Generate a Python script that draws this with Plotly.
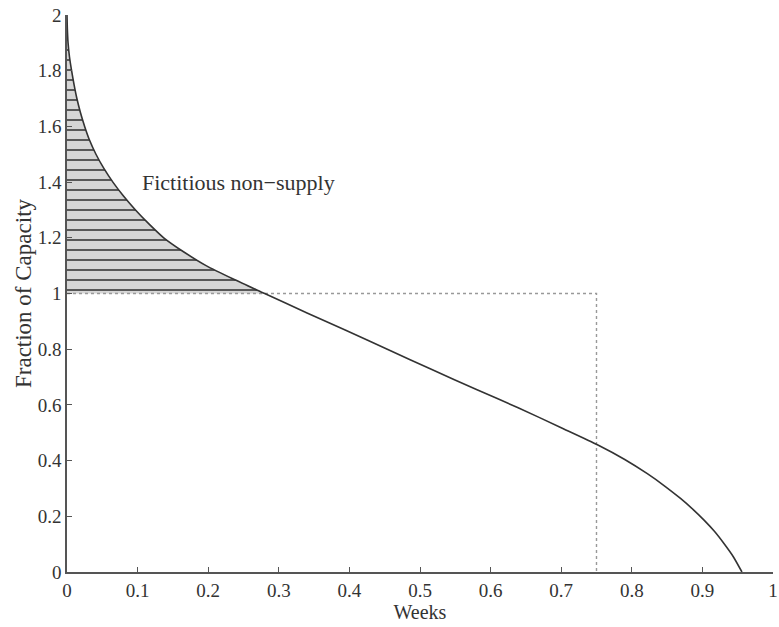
import plotly.graph_objects as go

# Data
weeks = [0.0, 0.0005, 0.0015, 0.0035, 0.0065, 0.010, 0.014, 0.019, 0.025, 0.032, 0.041,
         0.052, 0.065, 0.080, 0.097, 0.116, 0.137, 0.165, 0.197, 0.237, 0.28,
         0.34, 0.394, 0.456, 0.516, 0.58, 0.639, 0.70, 0.752, 0.79, 0.822, 0.848,
         0.869, 0.887, 0.902, 0.917, 0.930, 0.944, 0.956]
fraction = [2.0, 1.95, 1.9, 1.85, 1.8, 1.75, 1.7, 1.65, 1.6, 1.55, 1.5,
            1.45, 1.4, 1.35, 1.3, 1.25, 1.2, 1.15, 1.1, 1.05, 1.0,
            0.93, 0.869, 0.797, 0.728, 0.655, 0.59, 0.518, 0.456, 0.404, 0.353, 0.306,
            0.264, 0.224, 0.187, 0.146, 0.104, 0.054, 0.0]
capacity_level = 1.0
horizon_week = 0.75
x_ticks = [0, 0.1, 0.2, 0.3, 0.4, 0.5, 0.6, 0.7, 0.8, 0.9, 1]
y_ticks = [0, 0.2, 0.4, 0.6, 0.8, 1, 1.2, 1.4, 1.6, 1.8, 2]
label_text = "Fictitious non\u2212supply"

FONT = "Liberation Serif"
INK = "#333333"

# portion of the curve above capacity (shaded region)
over_x = [x for x, y in zip(weeks, fraction) if y >= capacity_level]
over_y = [y for y in fraction if y >= capacity_level]

fig = go.Figure()
fig.add_trace(go.Scatter(x=[0, over_x[-1]], y=[capacity_level, capacity_level],
                         mode="lines", line=dict(width=0), showlegend=False,
                         hoverinfo="skip"))
fig.add_trace(go.Scatter(x=over_x, y=over_y, mode="lines", fill="tonexty",
                         line=dict(width=0, shape="spline", smoothing=0.6),
                         fillcolor="#d4d4d4",
                         fillpattern=dict(shape="-", size=10, solidity=0.15,
                                          fgcolor="#2e2e2e", bgcolor="#d6d6d6",
                                          fillmode="replace"),
                         showlegend=False, hoverinfo="skip"))
# dotted capacity box
fig.add_trace(go.Scatter(x=[0, horizon_week, horizon_week],
                         y=[capacity_level, capacity_level, 0],
                         mode="lines", line=dict(color="#999999", width=1.4, dash="dot"),
                         showlegend=False))
# main curve
fig.add_trace(go.Scatter(x=weeks, y=fraction, mode="lines",
                         line=dict(color=INK, width=1.6, shape="spline", smoothing=0.6),
                         showlegend=False))

fig.add_annotation(x=0.103, y=1.397, text=label_text, showarrow=False,
                   xanchor="left", yanchor="middle",
                   font=dict(family=FONT, size=22, color=INK))

axis_common = dict(showgrid=False, zeroline=False, showline=True, linecolor="#555555",
                   linewidth=1.5, ticks="inside", ticklen=5, tickwidth=1.2,
                   tickcolor="#555555", tickfont=dict(family=FONT, size=19, color=INK),
                   ticklabeloverflow="allow", automargin=False, mirror=False)

fig.update_xaxes(range=[0, 1], tickvals=x_ticks, ticktext=[f"{v:g}" for v in x_ticks],
                 title=dict(text="Weeks", font=dict(family=FONT, size=20, color=INK),
                            standoff=0),
                 **axis_common)
fig.update_yaxes(range=[0, 2], tickvals=y_ticks, ticktext=[f"{v:g}" for v in y_ticks],
                 title=dict(text="Fraction of Capacity",
                            font=dict(family=FONT, size=23, color=INK), standoff=0),
                 **axis_common)

fig.update_layout(width=779, height=627, margin=dict(l=67, r=6, t=15, b=55),
                  plot_bgcolor="white", paper_bgcolor="white", showlegend=False)

fig.write_html("out.html")
